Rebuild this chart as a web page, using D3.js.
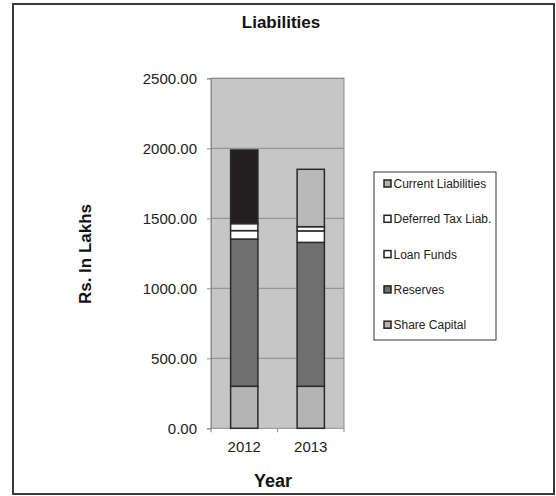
<!DOCTYPE html>
<html><head><meta charset="utf-8">
<script src="https://cdn.jsdelivr.net/npm/d3@7"></script>
<style>body{margin:0;background:#fff;}svg{display:block;font-family:"Liberation Sans",Arial,sans-serif;}</style>
</head><body>
<svg id="c" width="556" height="496"></svg>
<script>
const years = ["2012", "2013"];
const seriesNames = ["Share Capital", "Reserves", "Loan Funds", "Deferred Tax Liab.", "Current Liabilities"];
const shareCapital = [300, 300];
const reserves = [1052, 1028];
const loanFunds = [60, 82];
const deferredTax = [50, 30];
const currentLiabilities = [526, 410];
const yTicks = [0, 500, 1000, 1500, 2000, 2500];

const seriesValues = [shareCapital, reserves, loanFunds, deferredTax, currentLiabilities];
const colors = ["#b4b4b4", "#6f6f6f", "#ffffff", "#f8f8f8", "#b8b8b8"];
const pointColors = {"Current Liabilities": ["#231f20", "#b9b9b9"]};

const svg = d3.select("#c");
svg.append("rect").attr("x", 13).attr("y", 4).attr("width", 541).attr("height", 490)
  .attr("fill", "#fff").attr("stroke", "#3a3a3a").attr("stroke-width", 2);

const plot = {l: 211, r: 344, t: 78.3, b: 428.3};
const x = d3.scaleBand().domain(years).range([plot.l, plot.r]).paddingInner(0.59).paddingOuter(0.295);
const y = d3.scaleLinear().domain([0, 2500]).range([plot.b, plot.t]);

svg.append("rect").attr("x", plot.l).attr("y", plot.t).attr("width", plot.r - plot.l).attr("height", plot.b - plot.t)
  .attr("fill", "#c6c6c6").attr("stroke", "#8a8a8a").attr("stroke-width", 1);

svg.append("g").selectAll("line").data(yTicks.slice(1)).join("line")
  .attr("x1", plot.l).attr("x2", plot.r).attr("y1", d => y(d)).attr("y2", d => y(d))
  .attr("stroke", "#8a8a8a").attr("stroke-width", 1);

const yAxis = svg.append("g").attr("transform", `translate(${plot.l},0)`)
  .call(d3.axisLeft(y).tickValues(yTicks).tickFormat(d3.format(".2f")).tickSize(4).tickPadding(10));
yAxis.select(".domain").attr("stroke", "#8a8a8a");
yAxis.selectAll(".tick line").attr("stroke", "#8a8a8a");
yAxis.selectAll("text").attr("font-size", 15).attr("fill", "#222").attr("font-family", "Liberation Sans, Arial, sans-serif");

const xAxis = svg.append("g").attr("transform", `translate(0,${plot.b})`)
  .call(d3.axisBottom(x).tickSize(0).tickPadding(13));
xAxis.select(".domain").remove();
xAxis.selectAll("text").attr("font-size", 15).attr("fill", "#222").attr("font-family", "Liberation Sans, Arial, sans-serif");
// category separator ticks
const xt = d3.scaleLinear().domain([0, 2]).range([plot.l, plot.r]);
svg.append("g").selectAll("line").data([0, 1, 2]).join("line")
  .attr("x1", d => xt(d)).attr("x2", d => xt(d)).attr("y1", plot.b).attr("y2", plot.b + 4)
  .attr("stroke", "#8a8a8a");

const table = years.map((yr, i) => {
  const o = {year: yr};
  seriesNames.forEach((s, j) => o[s] = seriesValues[j][i]);
  return o;
});
const stacked = d3.stack().keys(seriesNames)(table);

stacked.forEach((layer, j) => {
  svg.append("g").selectAll("rect").data(layer).join("rect")
    .attr("x", d => x(d.data.year))
    .attr("width", x.bandwidth())
    .attr("y", d => y(d[1]))
    .attr("height", d => y(d[0]) - y(d[1]))
    .attr("fill", (d, i) => pointColors[layer.key] ? pointColors[layer.key][i] : colors[j])
    .attr("stroke", "#2a2a2a").attr("stroke-width", 1.5);
});

svg.append("text").attr("x", 281).attr("y", 28).attr("text-anchor", "middle")
  .attr("font-size", 17).attr("font-weight", "bold").attr("fill", "#111").text("Liabilities");
svg.append("text").attr("transform", "translate(91,254) rotate(-90)").attr("text-anchor", "middle")
  .attr("font-size", 17).attr("font-weight", "bold").attr("fill", "#111").text("Rs. In Lakhs");
svg.append("text").attr("x", 273).attr("y", 487).attr("text-anchor", "middle")
  .attr("font-size", 18).attr("font-weight", "bold").attr("fill", "#111").text("Year");

// legend
svg.append("rect").attr("x", 374).attr("y", 172).attr("width", 122).attr("height", 168)
  .attr("fill", "#fff").attr("stroke", "#333").attr("stroke-width", 1);
const legendOrder = seriesNames.slice().reverse();
const legendColors = {"Current Liabilities": "#b0b0b0", "Deferred Tax Liab.": "#fff", "Loan Funds": "#fff", "Reserves": "#6f6f6f", "Share Capital": "#b4b4b4"};
const lg = svg.append("g").selectAll("g").data(legendOrder).join("g")
  .attr("transform", (d, i) => `translate(384,${184 + i * 35.3})`);
lg.append("rect").attr("x", 0).attr("y", -4).attr("width", 7).attr("height", 7)
  .attr("fill", d => legendColors[d]).attr("stroke", "#222").attr("stroke-width", 1.5);
lg.append("text").attr("x", 9.5).attr("y", 4).attr("font-size", 12).attr("fill", "#222").text(d => d);
</script>
</body></html>
